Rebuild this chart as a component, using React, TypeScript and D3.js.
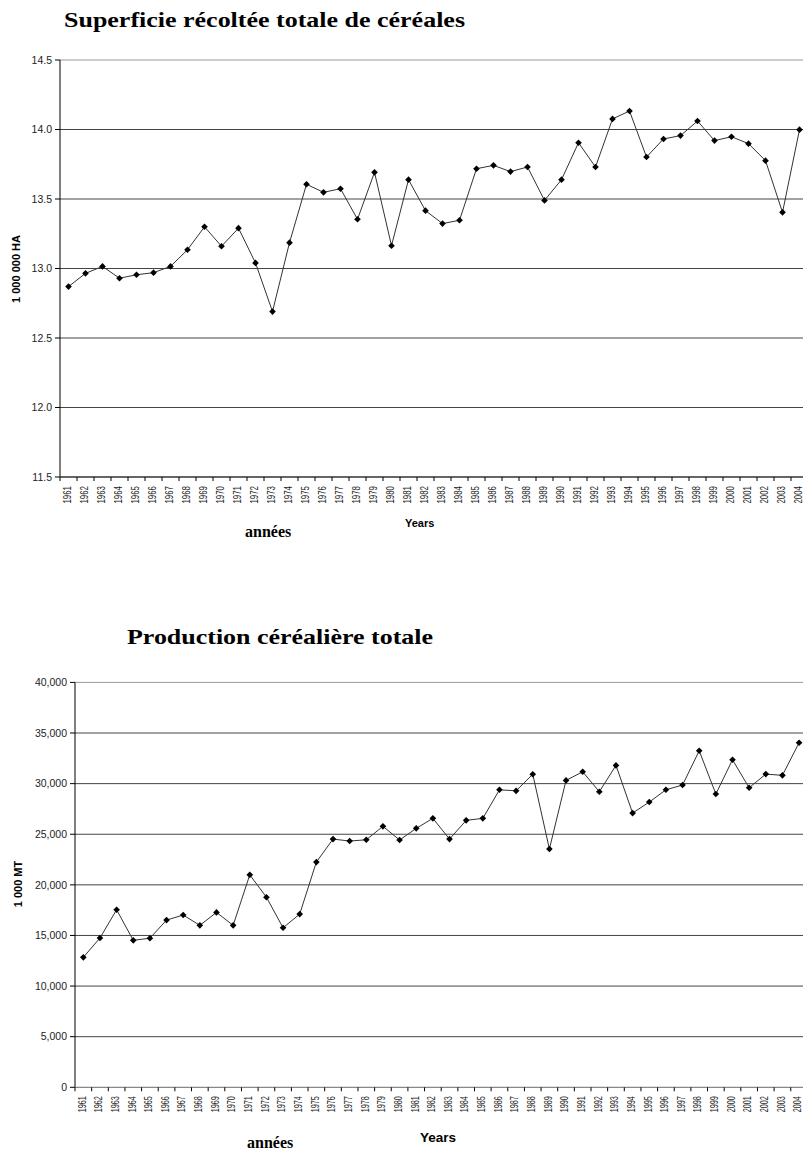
import React from "react";
import * as d3 from "d3";

const years: string[] = [];
for (let y = 1961; y <= 2004; y++) years.push(String(y));

const areaValues = [
  12.87, 12.965, 13.015, 12.93, 12.955, 12.97, 13.015, 13.135, 13.30, 13.16,
  13.29, 13.04, 12.69, 13.186, 13.606, 13.548, 13.574, 13.354, 13.692, 13.164,
  13.639, 13.416, 13.323, 13.347, 13.718, 13.742, 13.697, 13.73, 13.49, 13.639,
  13.905, 13.73, 14.076, 14.133, 13.802, 13.932, 13.956, 14.061, 13.92, 13.948,
  13.898, 13.776, 13.404, 13.999,
];

const productionValues = [
  12840, 14750, 17540, 14520, 14730, 16520, 17020, 16000, 17280, 16000,
  20990, 18780, 15760, 17110, 22250, 24520, 24330, 24450, 25780, 24430,
  25580, 26570, 24520, 26370, 26570, 29390, 29290, 30930, 23540, 30320,
  31170, 29200, 31800, 27090, 28180, 29390, 29860, 33250, 28970, 32360,
  29590, 30940, 30820, 34040,
];

const areaTicks = [11.5, 12.0, 12.5, 13.0, 13.5, 14.0, 14.5];
const productionTicks = [0, 5000, 10000, 15000, 20000, 25000, 30000, 35000, 40000];

const W = 803;
const H = 1150;
const SANS = "'Liberation Sans', Arial, sans-serif";
const SERIF = "'Liberation Serif', 'Times New Roman', serif";

type ChartProps = {
  values: number[];
  ticks: number[];
  left: number;
  right: number;
  top: number;
  bottom: number;
  fmt: (v: number) => string;
  title: string;
  titleX: number;
  titleY: number;
  titleLen: number;
  yLabel: string;
  yLabelX: number;
  yLabelY: number;
  xTitleX: number;
  xTitleY: number;
  xTitleSize: number;
  anneesX: number;
  anneesY: number;
  axisColor: string;
  labelLen: number;
};

function Chart(p: ChartProps) {
  const x = d3.scaleBand<string>().domain(years).range([p.left, p.right]).padding(0);
  const y = d3
    .scaleLinear()
    .domain([p.ticks[0], p.ticks[p.ticks.length - 1]])
    .range([p.bottom, p.top]);
  const bw = x.bandwidth();
  const pts: [number, number][] = p.values.map((v, i) => [x(years[i])! + bw / 2, y(v)]);
  const line = d3.line()(pts) || "";
  const marker = d3.symbol(d3.symbolSquare, 22)() || "";
  const boundaries = years.map((yr) => x(yr)!).concat([p.right]);
  return (
    <g>
      <text
        x={p.titleX}
        y={p.titleY}
        fontFamily={SERIF}
        fontWeight="bold"
        fontSize={22}
        textLength={p.titleLen}
        lengthAdjust="spacingAndGlyphs"
        fill="#000"
      >
        {p.title}
      </text>
      {p.ticks.map((t, i) =>
        i === 0 ? null : (
          <line
            key={"g" + t}
            x1={p.left}
            x2={W}
            y1={y(t)}
            y2={y(t)}
            stroke={i === p.ticks.length - 1 ? "#999" : "#444"}
            strokeWidth={1}
          />
        )
      )}
      {p.ticks.map((t) => (
        <g key={"t" + t}>
          <line x1={p.left - 5} x2={p.left} y1={y(t)} y2={y(t)} stroke="#000" />
          <text
            x={p.left - 8}
            y={y(t)}
            dy="0.35em"
            textAnchor="end"
            fontFamily={SANS}
            fontSize={10.5}
            fill="#222"
          >
            {p.fmt(t)}
          </text>
        </g>
      ))}
      <line x1={p.left} x2={p.left} y1={p.top} y2={p.bottom} stroke="#000" strokeWidth={1} />
      <line x1={p.left} x2={W} y1={p.bottom} y2={p.bottom} stroke={p.axisColor} strokeWidth={1.3} />
      {boundaries.map((bx, i) => (
        <line key={"xt" + i} x1={bx} x2={bx} y1={p.bottom} y2={p.bottom + 4} stroke="#000" />
      ))}
      {years.map((yr) => {
        const cx = x(yr)! + bw / 2 - 1.5;
        const ty = p.bottom + 9;
        return (
          <text
            key={"xl" + yr}
            transform={`translate(${cx},${ty}) rotate(-90)`}
            dy="0.36em"
            textAnchor="end"
            fontFamily={SANS}
            fontSize={10.5}
            textLength={p.labelLen}
            lengthAdjust="spacingAndGlyphs"
            fill="#222"
          >
            {yr}
          </text>
        );
      })}
      <path d={line} fill="none" stroke="#333" strokeWidth={1} />
      {pts.map(([px, py], i) => (
        <path
          key={"m" + i}
          d={marker}
          transform={`translate(${px},${py}) rotate(45)`}
          fill="#000"
        />
      ))}
      <text
        transform={`translate(${p.yLabelX},${p.yLabelY}) rotate(-90)`}
        textAnchor="middle"
        dy="0.35em"
        fontFamily={SANS}
        fontWeight="bold"
        fontSize={11}
        fill="#000"
      >
        {p.yLabel}
      </text>
      <text
        x={p.xTitleX}
        y={p.xTitleY}
        fontFamily={SANS}
        fontWeight="bold"
        fontSize={p.xTitleSize}
        fill="#000"
      >
        Years
      </text>
      <text x={p.anneesX} y={p.anneesY} fontFamily={SERIF} fontWeight="bold" fontSize={16} fill="#000">
        années
      </text>
    </g>
  );
}

export default function App() {
  return (
    <svg
      width={W}
      height={H}
      viewBox={`0 0 ${W} ${H}`}
      style={{ position: "absolute", left: 0, top: 0, background: "#fff" }}
    >
      <rect x={0} y={0} width={W} height={H} fill="#fff" />
      <Chart
        values={areaValues}
        ticks={areaTicks}
        left={60}
        right={808}
        top={60}
        bottom={477}
        fmt={(v) => d3.format(".1f")(v)}
        title="Superficie récoltée totale de céréales"
        titleX={64}
        titleY={27}
        titleLen={401}
        yLabel="1 000 000 HA"
        yLabelX={16}
        yLabelY={269}
        xTitleX={405}
        xTitleY={527}
        xTitleSize={11}
        anneesX={245}
        anneesY={537}
        axisColor="#333"
        labelLen={17.5}
      />
      <Chart
        values={productionValues}
        ticks={productionTicks}
        left={75}
        right={807.4}
        top={682.4}
        bottom={1087.3}
        fmt={(v) => d3.format(",")(v)}
        title="Production céréalière totale"
        titleX={127}
        titleY={644}
        titleLen={306}
        yLabel="1 000 MT"
        yLabelX={18}
        yLabelY={884}
        xTitleX={420}
        xTitleY={1142}
        xTitleSize={13.5}
        anneesX={247}
        anneesY={1148}
        axisColor="#888"
        labelLen={16}
      />
    </svg>
  );
}
